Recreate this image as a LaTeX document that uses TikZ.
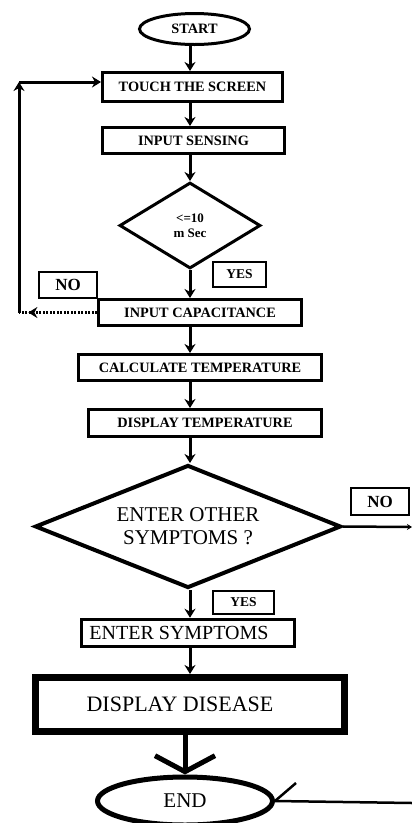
\documentclass[tikz,border=0pt]{standalone}
\usepackage{fontspec}
\setmainfont{Liberation Serif}
\usetikzlibrary{shapes.geometric, arrows.meta, decorations.markings, calc}
\begin{document}
\begin{tikzpicture}[x=1pt, y=-1pt,
  smallfont/.style={font=\bfseries\fontsize{14.3}{15}\selectfont},
  bigfont/.style={font=\fontsize{21}{23}\selectfont},
  box/.style={draw, rectangle, line width=3pt, inner sep=0pt, smallfont},
  labelbox/.style={draw, rectangle, line width=2pt, inner sep=0pt, font=\bfseries\fontsize{13.5}{15}\selectfont},
  oval/.style={draw, ellipse, inner sep=0pt},
  dia/.style={draw, diamond, inner sep=0pt},
  flow/.style={line width=3pt, -{Stealth[length=9pt,width=11pt]}},
  markarrow/.style={postaction={decorate}, decoration={markings, mark=at position #1 with {\arrow{Stealth[length=9pt,width=11pt]}}}}
]
\useasboundingbox (0,0) rectangle (412,823);
\clip (0,0) rectangle (412,823);

\node[oval, line width=3pt, minimum width=110pt, minimum height=31pt, smallfont] (start) at (194.5,29) {START};
\node[box, minimum width=180pt, minimum height=29pt] (touch) at (192.5,87) {TOUCH THE SCREEN};
\node[box, minimum width=182pt, minimum height=26pt] (sense) at (193.5,140.5) {INPUT SENSING};
\node[dia, line width=3pt, aspect=1.64, minimum width=141pt, minimum height=86pt, font=\bfseries\fontsize{13}{15}\selectfont, align=center] (d1) at (190,225.5) {<=10\\m Sec};
\node[labelbox, minimum width=53pt, minimum height=25pt] (yes1) at (239.5,274.5) {YES};
\node[labelbox, minimum width=58pt, minimum height=26pt, font=\bfseries\fontsize{17}{18}\selectfont] (no1) at (68,285) {NO};
\node[box, minimum width=203pt, minimum height=26pt] (cap) at (200,312.5) {INPUT CAPACITANCE};
\node[box, minimum width=243pt, minimum height=26pt] (calc) at (200,367.5) {CALCULATE TEMPERATURE};
\node[box, minimum width=233pt, minimum height=27pt] (disp) at (205,423) {DISPLAY TEMPERATURE};
\node[dia, line width=4pt, aspect=2.49, minimum width=306pt, minimum height=123pt, bigfont, align=center] (d2) at (188,526.5) {ENTER OTHER\\SYMPTOMS ?};
\node[labelbox, minimum width=58pt, minimum height=27pt, font=\bfseries\fontsize{17}{18}\selectfont] (no2) at (380,501.5) {NO};
\node[labelbox, minimum width=61pt, minimum height=23pt] (yes2) at (243.5,602.5) {YES};
\node[draw, rectangle, line width=3.5pt, inner sep=0pt, minimum width=213pt, minimum height=27pt, font=\fontsize{20}{22}\selectfont] (sym) at (188,633) {ENTER SYMPTOMS\hspace*{18pt}};
\node[draw, rectangle, line width=7pt, inner sep=0pt, minimum width=309pt, minimum height=54pt, font=\fontsize{22}{24}\selectfont] (dis) at (190,704.5) {DISPLAY DISEASE\hspace*{20pt}};
\node[oval, line width=5pt, minimum width=175pt, minimum height=48pt, bigfont] (end) at (185,801) {END};

\coordinate (ax) at (190,0);
\foreach \a/\b in {start/touch, touch/sense, sense/d1, d1/cap, cap/calc, calc/disp, disp/d2, d2/sym, sym/dis}
  \draw[flow] (\a.south -| ax) -- (\b.north -| ax);

% loop back (NO)
\coordinate (l1) at (19,312.5);
\coordinate (l2) at (19,82);
\draw[line width=3pt, dash pattern=on 2pt off 1.5pt, markarrow=0.88] (cap.west) -- (l1);
\draw[line width=3pt, -{Stealth[length=9pt,width=11pt]}] (l1) -- (l2);
\draw[flow] (l2) -- (touch.west |- l2);

% NO exit to the right
\coordinate (r1) at (412,527);
\draw[line width=2.5pt, -{Stealth[length=5pt,width=6pt]}] (d2.east) -- (r1);

% to END
\draw[line width=5pt, -{Straight Barb[length=16pt,width=60pt]}] (dis.south -| end.north) -- (end.north);
\coordinate (e1) at (412,803);
\coordinate (t1) at (296,783);
\draw[line width=2.5pt] (end.east) -- (e1);
\draw[line width=2.5pt] (end.east) -- (t1);
\end{tikzpicture}
\end{document}
